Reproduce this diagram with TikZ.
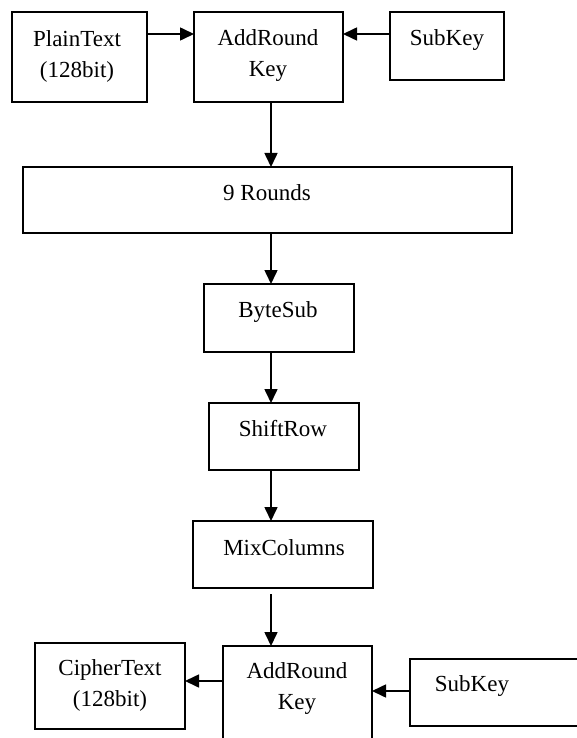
\documentclass[tikz,border=0pt]{standalone}
\usepackage{fontspec}
\setmainfont{Liberation Serif}
\usetikzlibrary{arrows.meta}
\begin{document}
\begin{tikzpicture}[x=1pt,y=-1pt,
  box/.style={draw, line width=1.4pt, anchor=north west, inner sep=0pt, outer sep=0pt},
  txt/.style={align=center, inner sep=0pt, font=\fontsize{23}{31}\selectfont},
  arr/.style={line width=1.6pt, -{Triangle[length=14pt,width=13pt]}}]
\useasboundingbox (0,0) rectangle (577,738);
\clip (0,0) rectangle (577,738);
% boxes
\node[box, minimum width=135pt, minimum height=90pt] (pt) at (12,12) {};
\node[box, minimum width=149pt, minimum height=90pt] (ar1) at (194,12) {};
\node[box, minimum width=114pt, minimum height=68pt] (sk1) at (390,12) {};
\node[box, minimum width=489pt, minimum height=66pt] (r9) at (23,167) {};
\node[box, minimum width=150pt, minimum height=68pt] (bs) at (204,284) {};
\node[box, minimum width=150pt, minimum height=67pt] (sr) at (209,403) {};
\node[box, minimum width=180pt, minimum height=67pt] (mc) at (193,521) {};
\node[box, minimum width=150pt, minimum height=86pt] (ct) at (35,643) {};
\node[box, minimum width=149pt, minimum height=120pt] (ar2) at (223,646) {};
\node[box, minimum width=200pt, minimum height=67pt] (sk2) at (410,659) {};
% texts
\node[txt] (ptt) at (77,56) {PlainText\\(128bit)};
\node[txt] (ar1t) at (268,56) {AddRound\\Key};
\node[txt] (sk1t) at (447,40) {SubKey};
\node[txt] (r9t) at (267,193) {9 Rounds};
\node[txt] (bst) at (278,312) {ByteSub};
\node[txt] (srt) at (283,429) {ShiftRow};
\node[txt] (mct) at (284,548) {MixColumns};
\node[txt] (ctt) at (110,685) {CipherText\\(128bit)};
\node[txt] (ar2t) at (297,688) {AddRound\\Key};
\node[txt] (sk2t) at (472,686) {SubKey};
% guide coordinates
\coordinate (col) at (271,0);
\coordinate (row1) at (0,34);
\coordinate (row2) at (0,681);
\coordinate (row3) at (0,691);
% connectors
\draw[arr] (pt.east |- row1) -- (ar1.west |- row1);
\draw[arr] (sk1.west |- row1) -- (ar1.east |- row1);
\draw[arr] (col |- ar1.south) -- (col |- r9.north);
\draw[arr] (col |- r9.south) -- (col |- bs.north);
\draw[arr] (col |- bs.south) -- (col |- sr.north);
\draw[arr] (col |- sr.south) -- (col |- mc.north);
\draw[arr, shorten <=6pt] (col |- mc.south) -- (col |- ar2.north);
\draw[arr] (ar2.west |- row2) -- (ct.east |- row2);
\draw[arr] (sk2.west |- row3) -- (ar2.east |- row3);
\end{tikzpicture}
\end{document}
